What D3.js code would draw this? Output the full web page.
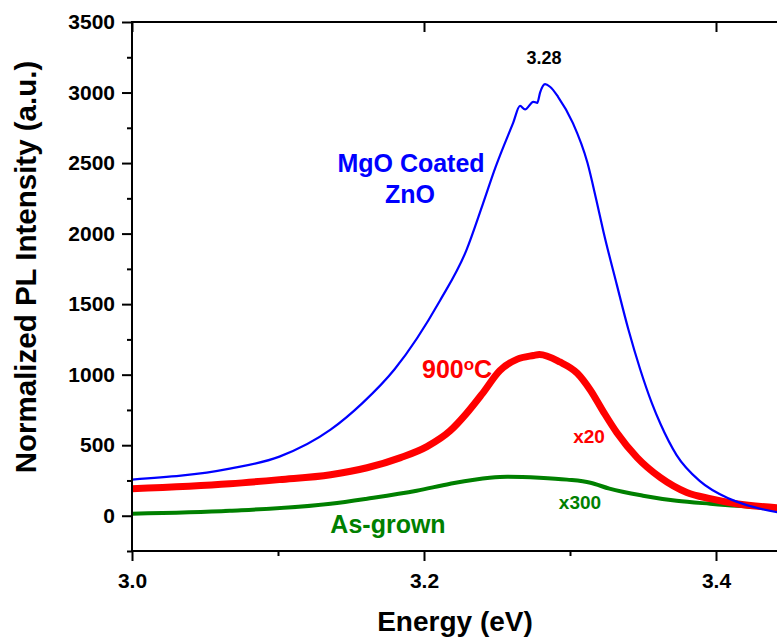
<!DOCTYPE html>
<html>
<head>
<meta charset="utf-8">
<script src="https://cdn.jsdelivr.net/npm/d3@7"></script>
<style>
  html, body { margin: 0; padding: 0; background: #fff; }
  svg { display: block; font-family: "Liberation Sans", Arial, sans-serif; }
</style>
</head>
<body>
<svg id="chart" width="777" height="639"></svg>
<script>
// ---- Data ----
const xTicks = [3.0, 3.2, 3.4];
const xMinorTicks = [3.1, 3.3];
const yTicks = [0, 500, 1000, 1500, 2000, 2500, 3000, 3500];
const yMinorTicks = [-250, 250, 750, 1250, 1750, 2250, 2750, 3250];

// MgO coated ZnO (blue)
const mgoE = [3.000, 3.067, 3.101, 3.136, 3.158, 3.180, 3.211, 3.229, 3.240, 3.249, 3.261, 3.2658, 3.2692, 3.2749, 3.2776, 3.2795, 3.2829, 3.2863, 3.2918, 3.302, 3.312, 3.318, 3.323, 3.332, 3.340, 3.348, 3.356, 3.362, 3.373, 3.389, 3.408, 3.421, 3.442];
const mgoI = [256, 334, 419, 610, 800, 1040, 1526, 1881, 2200, 2471, 2783, 2905, 2880, 2934, 2927, 3000, 3060, 3041, 2970, 2783, 2500, 2240, 2010, 1640, 1320, 1040, 800, 650, 430, 245, 125, 75, 25];

// 900°C annealed, x20 (red)
const annE = [3.000, 3.067, 3.101, 3.136, 3.161, 3.184, 3.202, 3.218, 3.229, 3.240, 3.252, 3.264, 3.275, 3.279, 3.293, 3.305, 3.314, 3.323, 3.332, 3.346, 3.362, 3.380, 3.396, 3.414, 3.442];
const annI = [192, 227, 256, 291, 340, 412, 490, 603, 724, 866, 1030, 1110, 1136, 1143, 1090, 1010, 890, 735, 590, 412, 270, 165, 121, 85, 57];

// As-grown, x300 (green)
const asgE = [3.000, 3.067, 3.136, 3.161, 3.195, 3.218, 3.245, 3.257, 3.279, 3.298, 3.314, 3.327, 3.350, 3.373, 3.396, 3.414, 3.442];
const asgI = [14, 35, 85, 121, 177, 227, 270, 277, 270, 256, 234, 192, 142, 106, 85, 71, 57];

// ---- Layout ----
const svg = d3.select("#chart");
const mL = 132, mR = 777, mT = 22, mB = 551;
const x = d3.scaleLinear().domain([3.0, 3.0 + (mR - mL) / 1460]).range([mL, mR]);
const y = d3.scaleLinear().domain([-250, 3500]).range([mB, mT]);

// clip
svg.append("defs").append("clipPath").attr("id", "plot")
  .append("rect").attr("x", mL).attr("y", mT).attr("width", mR - mL).attr("height", mB - mT);

const line = d3.line().x(d => x(d[0])).y(d => y(d[1])).curve(d3.curveMonotoneX);
const g = svg.append("g").attr("clip-path", "url(#plot)");

g.append("path").datum(d3.zip(asgE, asgI)).attr("d", line)
  .attr("fill", "none").attr("stroke", "#008000").attr("stroke-width", 4);
g.append("path").datum(d3.zip(annE, annI)).attr("d", line)
  .attr("fill", "none").attr("stroke", "#ff0000").attr("stroke-width", 7);
g.append("path").datum(d3.zip(mgoE, mgoI)).attr("d", line)
  .attr("fill", "none").attr("stroke", "#0000ff").attr("stroke-width", 2.2);

// ---- Axes ----
function styleAxis(sel) {
  sel.select(".domain").remove();
  sel.selectAll(".tick line").attr("stroke", "#000").attr("stroke-width", 2);
  sel.selectAll(".tick text").attr("fill", "#000").style("font-size", "21px").style("font-weight", "bold");
}

svg.append("g").attr("transform", `translate(${mL},0)`)
  .call(d3.axisLeft(y).tickValues(yMinorTicks).tickSize(5).tickFormat(""))
  .call(styleAxis);
svg.append("g").attr("transform", `translate(${mL},0)`)
  .call(d3.axisLeft(y).tickValues(yTicks).tickSize(10).tickPadding(7).tickFormat(d3.format("d")))
  .call(styleAxis);

svg.append("g").attr("transform", `translate(0,${mB})`)
  .call(d3.axisBottom(x).tickValues(xMinorTicks).tickSize(5).tickFormat(""))
  .call(styleAxis);
svg.append("g").attr("transform", `translate(0,${mB})`)
  .call(d3.axisBottom(x).tickValues(xTicks).tickSize(10).tickPadding(12).tickFormat(d3.format(".1f")))
  .call(styleAxis);

// top axis: inward major ticks
svg.append("g").attr("transform", `translate(0,${mT})`)
  .call(d3.axisBottom(x).tickValues(xTicks).tickSize(10).tickFormat(""))
  .call(styleAxis);

// axis lines
svg.append("line").attr("x1", mL).attr("x2", mL).attr("y1", mT - 1).attr("y2", mB + 1)
  .attr("stroke", "#000").attr("stroke-width", 2);
svg.append("line").attr("x1", mL - 1).attr("x2", mR).attr("y1", mB).attr("y2", mB)
  .attr("stroke", "#000").attr("stroke-width", 2);
svg.append("line").attr("x1", mL - 1).attr("x2", mR).attr("y1", mT).attr("y2", mT)
  .attr("stroke", "#000").attr("stroke-width", 2);

// ---- Titles ----
svg.append("text").attr("x", 455).attr("y", 631).attr("text-anchor", "middle")
  .style("font-size", "28px").style("font-weight", "bold").text("Energy (eV)");
svg.append("text").attr("transform", "translate(36,267) rotate(-90)").attr("text-anchor", "middle")
  .style("font-size", "29.5px").style("font-weight", "bold").text("Normalized PL Intensity (a.u.)");

// ---- Annotations ----
function label(txt, xx, yy, color, size, anchor) {
  return svg.append("text").attr("x", xx).attr("y", yy).attr("text-anchor", anchor || "middle")
    .attr("fill", color).style("font-size", size + "px").style("font-weight", "bold").text(txt);
}
label("3.28", 544, 64, "#000", 18);
label("MgO Coated", 411, 172, "#0000ff", 25);
label("ZnO", 410, 203, "#0000ff", 25);
const t900 = svg.append("text").attr("x", 422).attr("y", 378).attr("fill", "#ff0000")
  .style("font-size", "25px").style("font-weight", "bold");
t900.append("tspan").text("900");
t900.append("tspan").attr("dy", -8).style("font-size", "17px").text("o");
t900.append("tspan").attr("dy", 8).text("C");
label("x20", 589, 443, "#ff0000", 19);
label("x300", 580, 509, "#008000", 19);
label("As-grown", 388, 533, "#008000", 25);
</script>
</body>
</html>
